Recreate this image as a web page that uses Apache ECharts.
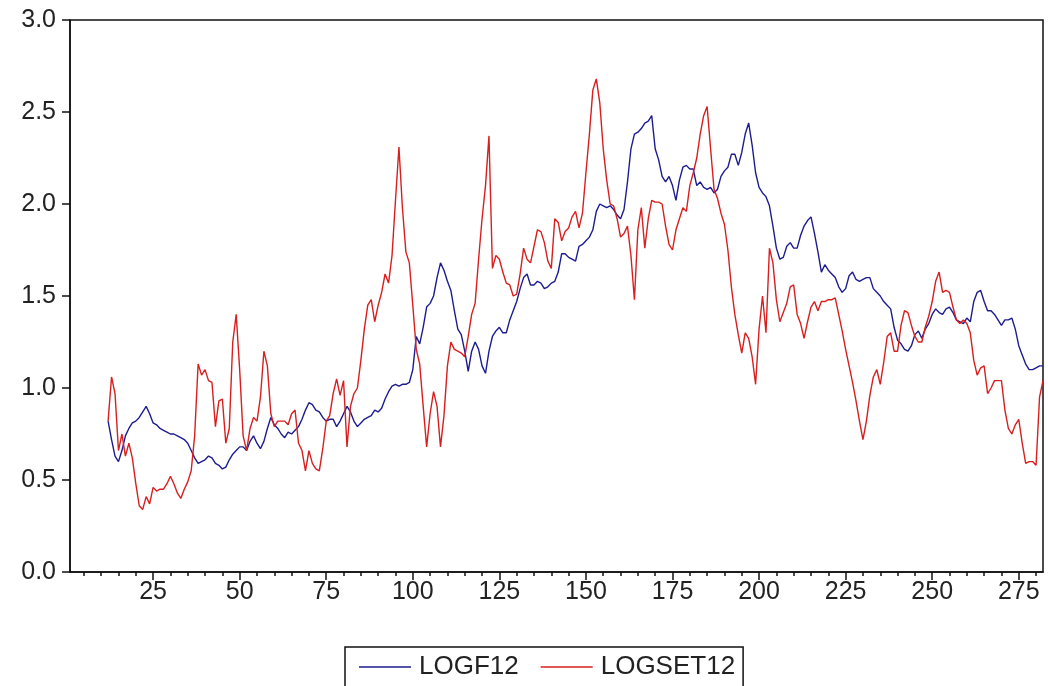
<!DOCTYPE html>
<html>
<head>
<meta charset="utf-8">
<script src="https://cdn.jsdelivr.net/npm/echarts@6/dist/echarts.min.js"></script>
<style>
html,body{margin:0;padding:0;background:#fff;}
#chart{width:1048px;height:686px;}
</style>
</head>
<body>
<div id="chart"></div>
<script>
// Observation index of the first value
const startObs = 12;
// LOGF12 (blue)
const logf12 = [
0.82,0.72,0.63,0.60,0.66,0.74,0.78,0.81,0.82,0.84,0.87,0.90,0.86,0.81,0.80,0.78,0.77,0.76,0.75,0.75,
0.74,0.73,0.72,0.70,0.66,0.62,0.59,0.60,0.61,0.63,0.62,0.59,0.58,0.56,0.57,0.61,0.64,0.66,0.68,0.68,
0.66,0.71,0.74,0.70,0.67,0.71,0.78,0.84,0.80,0.78,0.75,0.73,0.76,0.75,0.77,0.79,0.83,0.88,0.92,0.91,
0.88,0.87,0.84,0.82,0.83,0.83,0.79,0.82,0.86,0.90,0.87,0.82,0.79,0.81,0.83,0.84,0.85,0.88,0.87,0.89,
0.94,0.98,1.01,1.02,1.01,1.02,1.02,1.03,1.10,1.28,1.24,1.33,1.44,1.46,1.50,1.60,1.68,1.64,1.58,1.53,
1.42,1.32,1.29,1.20,1.09,1.20,1.25,1.21,1.12,1.08,1.20,1.28,1.31,1.33,1.30,1.30,1.37,1.42,1.47,1.54,
1.60,1.62,1.56,1.56,1.58,1.57,1.54,1.55,1.57,1.58,1.63,1.73,1.73,1.71,1.70,1.69,1.77,1.78,1.80,1.82,
1.86,1.96,2.00,1.99,1.98,1.99,1.97,1.94,1.92,1.97,2.12,2.30,2.38,2.39,2.41,2.44,2.45,2.48,2.30,2.24,
2.15,2.12,2.15,2.10,2.02,2.13,2.20,2.21,2.19,2.19,2.10,2.12,2.09,2.08,2.09,2.06,2.08,2.15,2.18,2.20,
2.27,2.27,2.21,2.28,2.38,2.44,2.32,2.17,2.09,2.06,2.04,1.99,1.88,1.76,1.70,1.71,1.77,1.79,1.76,1.76,
1.83,1.88,1.91,1.93,1.84,1.74,1.63,1.67,1.64,1.62,1.60,1.55,1.52,1.54,1.61,1.63,1.59,1.58,1.59,1.60,
1.60,1.54,1.52,1.50,1.47,1.45,1.43,1.33,1.26,1.24,1.21,1.20,1.23,1.29,1.31,1.27,1.32,1.35,1.40,1.43,
1.41,1.40,1.43,1.44,1.41,1.37,1.36,1.35,1.38,1.36,1.47,1.52,1.53,1.47,1.42,1.42,1.40,1.37,1.34,1.37,
1.37,1.38,1.32,1.23,1.18,1.13,1.10,1.10,1.11,1.12,1.12
];
// LOGSET12 (red)
const logset12 = [
0.82,1.06,0.97,0.66,0.75,0.63,0.70,0.62,0.48,0.36,0.34,0.41,0.37,0.46,0.44,0.45,0.45,0.48,0.52,0.48,
0.43,0.40,0.45,0.49,0.55,0.74,1.13,1.07,1.10,1.04,1.03,0.79,0.93,0.94,0.70,0.78,1.25,1.40,1.10,0.74,
0.66,0.78,0.84,0.82,0.95,1.20,1.12,0.86,0.79,0.82,0.82,0.82,0.80,0.86,0.88,0.70,0.66,0.55,0.66,0.59,
0.56,0.55,0.67,0.82,0.85,0.97,1.05,0.96,1.04,0.68,0.90,0.97,1.00,1.15,1.32,1.45,1.48,1.36,1.45,1.52,
1.62,1.57,1.72,2.02,2.31,1.98,1.74,1.68,1.45,1.21,1.13,0.90,0.68,0.86,0.98,0.90,0.68,0.85,1.12,1.25,
1.21,1.20,1.19,1.17,1.28,1.40,1.46,1.70,1.92,2.10,2.37,1.65,1.72,1.70,1.63,1.57,1.56,1.50,1.51,1.62,
1.76,1.70,1.68,1.77,1.86,1.85,1.79,1.69,1.65,1.92,1.90,1.80,1.85,1.87,1.93,1.96,1.87,1.95,2.17,2.38,
2.62,2.68,2.55,2.30,2.13,2.00,1.99,1.92,1.82,1.84,1.88,1.72,1.48,1.86,1.98,1.76,1.92,2.02,2.01,2.01,
2.00,1.88,1.78,1.75,1.86,1.92,1.98,1.96,2.10,2.17,2.25,2.38,2.48,2.53,2.30,2.08,2.03,1.95,1.89,1.75,
1.55,1.40,1.29,1.19,1.30,1.27,1.17,1.02,1.32,1.50,1.30,1.76,1.68,1.48,1.36,1.41,1.46,1.55,1.56,1.40,
1.35,1.27,1.36,1.44,1.47,1.42,1.47,1.47,1.48,1.48,1.49,1.40,1.31,1.21,1.12,1.03,0.93,0.82,0.72,0.82,
0.96,1.06,1.10,1.02,1.14,1.28,1.30,1.20,1.20,1.34,1.42,1.41,1.34,1.28,1.25,1.25,1.33,1.39,1.47,1.58,
1.63,1.52,1.53,1.52,1.44,1.37,1.35,1.37,1.35,1.30,1.15,1.07,1.11,1.12,0.97,1.00,1.04,1.04,1.04,0.88,
0.78,0.75,0.80,0.83,0.70,0.59,0.60,0.60,0.58,0.95,1.04
];
const xMajorTicks = [25,50,75,100,125,150,175,200,225,250,275];
const xMinorTicks = [5,10,15,20,30,35,40,45,55,60,65,70,80,85,90,95,105,110,115,120,130,135,140,145,155,160,165,170,180,185,190,195,205,210,215,220,230,235,240,245,255,260,265,270,280];
const yTicks = [0,0.5,1,1.5,2,2.5,3];

const toPairs = arr => arr.map((v, k) => [startObs + k, v]);

const chart = echarts.init(document.getElementById('chart'), null, {renderer: 'canvas'});
const font = '"Liberation Sans", Arial, sans-serif';
chart.setOption({
  animation: false,
  backgroundColor: '#ffffff',
  grid: {left: 70, top: 20, right: 5, bottom: 114, show: true, borderColor: '#111', borderWidth: 1.5},
  xAxis: [{
    type: 'value', min: 1, max: 282, position: 'bottom',
    axisLine: {show: true, lineStyle: {color: '#111', width: 1.5}},
    axisTick: {show: true, inside: false, length: 8, customValues: xMajorTicks, lineStyle: {color: '#111', width: 1.5}},
    axisLabel: {customValues: xMajorTicks, fontSize: 25, color: '#222', fontFamily: font, margin: 8},
    splitLine: {show: false}
  }, {
    type: 'value', min: 1, max: 282, position: 'bottom',
    axisLine: {show: false},
    axisTick: {show: true, inside: false, length: 4, customValues: xMinorTicks, lineStyle: {color: '#111', width: 1.5}},
    axisLabel: {show: false},
    splitLine: {show: false}
  }],
  yAxis: {
    type: 'value', min: 0, max: 3, interval: 0.5,
    axisLine: {show: true, lineStyle: {color: '#111', width: 1.5}},
    axisTick: {show: true, inside: false, length: 8, customValues: yTicks, lineStyle: {color: '#111', width: 1.5}},
    axisLabel: {fontSize: 25, color: '#222', fontFamily: font, margin: 14, formatter: v => v.toFixed(1)},
    splitLine: {show: false}
  },
  legend: {
    left: 345, top: 647,
    data: ['LOGF12', 'LOGSET12'],
    icon: 'rect', itemWidth: 52, itemHeight: 1.5, itemGap: 22,
    borderColor: '#111', borderWidth: 1.5, padding: [7, 8, 14, 14],
    textStyle: {fontSize: 26, color: '#222', fontFamily: font, padding: [0, 0, 0, 3]}
  },
  series: [{
    name: 'LOGF12', type: 'line', xAxisIndex: 0, data: toPairs(logf12),
    showSymbol: false, symbol: 'none', lineStyle: {color: '#1c1c90', width: 1.4}, itemStyle: {color: '#1c1c90'}
  }, {
    name: 'LOGSET12', type: 'line', xAxisIndex: 0, data: toPairs(logset12),
    showSymbol: false, symbol: 'none', lineStyle: {color: '#d81e1e', width: 1.4}, itemStyle: {color: '#d81e1e'}
  }]
});
</script>
</body>
</html>
